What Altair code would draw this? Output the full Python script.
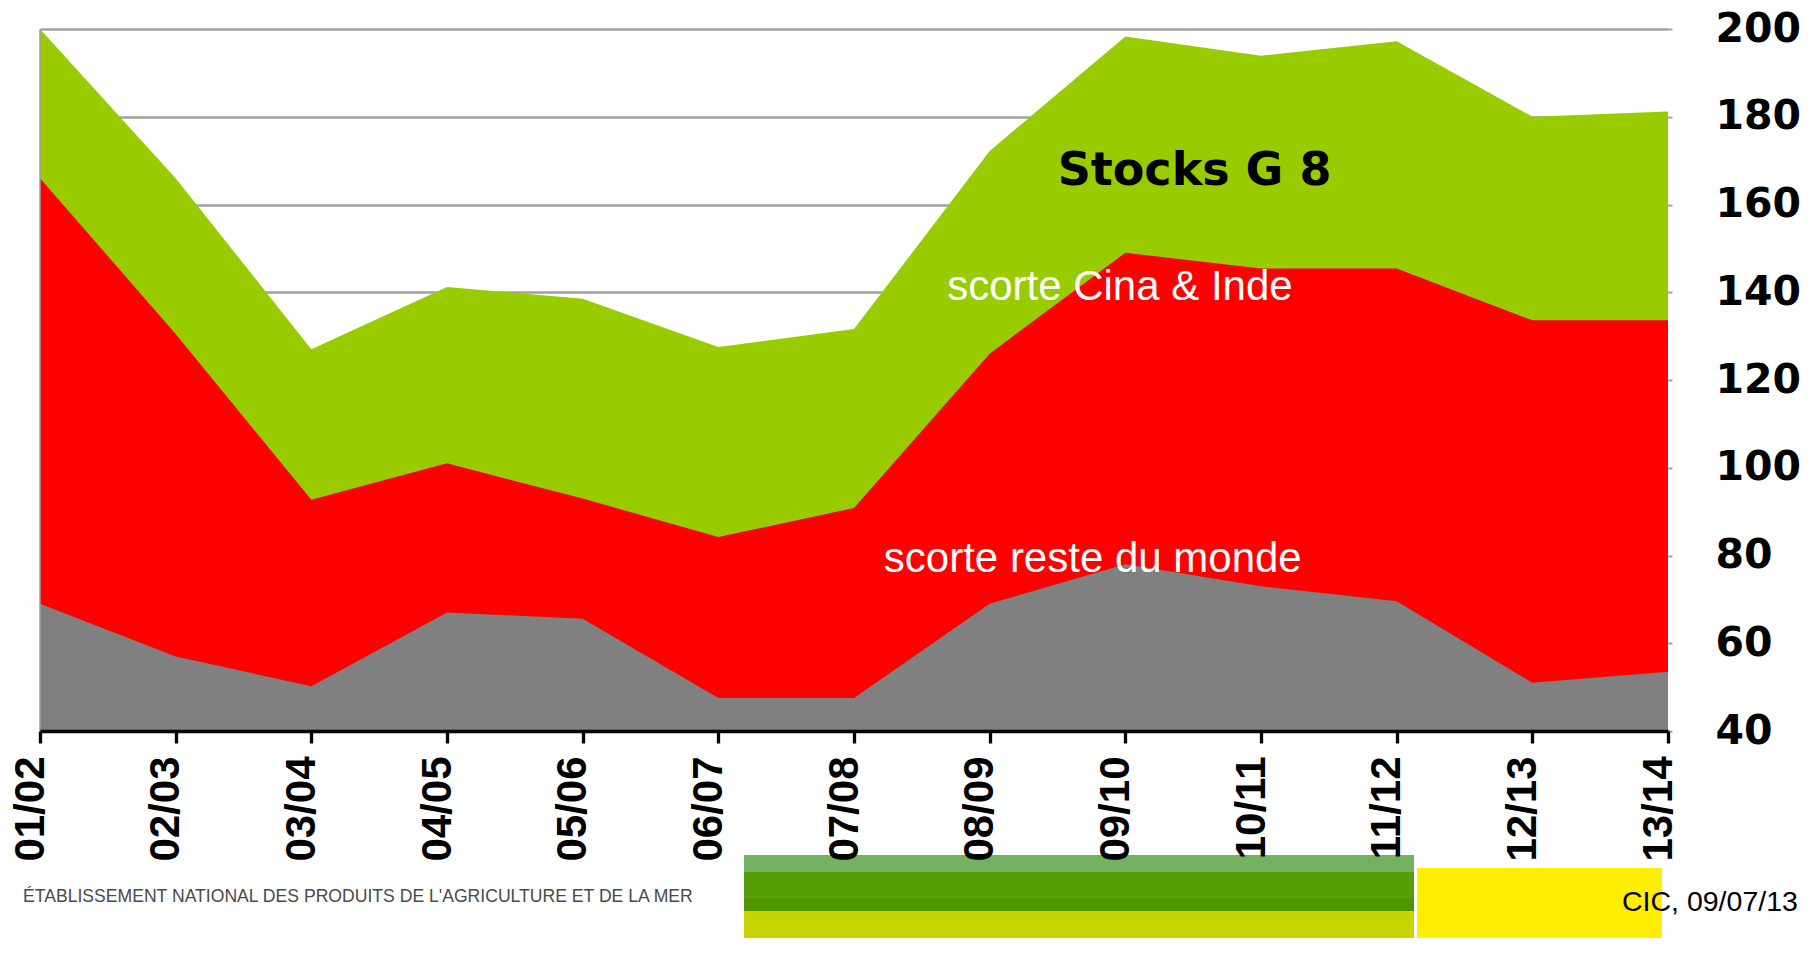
import altair as alt
import pandas as pd

# ---- data -------------------------------------------------------------
seasons = ["01/02", "02/03", "03/04", "04/05", "05/06", "06/07", "07/08",
           "08/09", "09/10", "10/11", "11/12", "12/13", "13/14"]
# upper edge of each coloured band (stacked totals)
total_g8 = [200, 166, 127, 141.2, 138.5, 127.5, 131.6, 172.2, 198.3, 193.9, 197.2, 180, 181.2]
edge_red = [166, 130.5, 92.7, 101, 93, 84.2, 90.8, 126, 149, 145.4, 145.4, 133.6, 133.6]
edge_grey = [69, 57, 50.2, 67, 65.6, 47.5, 47.5, 69, 78, 73, 69.6, 51, 53.5]

y_ticks = [40, 60, 80, 100, 120, 140, 160, 180, 200]

ann_bold_text = ["Stocks G 8"]
ann_bold_x = [8.51]
ann_bold_y = [167.7]

ann_white_text = ["scorte Cina & Inde", "scorte reste du monde"]
ann_white_x = [7.96, 7.76]
ann_white_y = [141.2, 79.3]

footer_left = "ÉTABLISSEMENT NATIONAL DES PRODUITS DE L'AGRICULTURE ET DE LA MER"
footer_right = "CIC, 09/07/13"

# ---- chart ------------------------------------------------------------
W, H = 1628, 702
df = pd.DataFrame({"i": list(range(len(seasons))), "season": seasons,
                   "top": total_g8, "mid": edge_red, "low": edge_grey})

label_expr = "[" + ",".join("'" + s + "'" for s in seasons) + "][datum.value]"

xscale = alt.Scale(domain=[0, len(seasons) - 1], nice=False, zero=False)
yscale = alt.Scale(domain=[40, 200], nice=False, zero=False)

x_axis = alt.Axis(values=list(range(len(seasons))), labelExpr=label_expr,
                  labelAngle=270, labelAlign="right", labelBaseline="alphabetic",
                  labelFont="Liberation Sans", labelFontWeight="bold",
                  labelFontSize=42, labelColor="black", labelPadding=13,
                  labelOffset=3, tickSize=12, tickWidth=3.3, tickColor="black",
                  domainColor="black", domainWidth=3.3, grid=False, title=None,
                  labelOverlap=False, labelFlush=False, labelBound=False,
                  zindex=1)
y_axis = alt.Axis(orient="right", values=y_ticks, grid=True, gridColor="#a0a0a0",
                  gridWidth=2.7, domain=False, tickColor="#a0a0a0", tickSize=4,
                  tickWidth=2, labelFont="DejaVu Sans", labelFontWeight="bold",
                  labelFontSize=41, labelColor="black", labelAlign="left",
                  labelBaseline="middle", labelPadding=43, title=None,
                  labelFlush=False, labelOverlap=False, labelBound=False)


def X(field):
    return alt.X(field, scale=xscale, axis=x_axis, title=None)


def Y(field):
    return alt.Y(field, scale=yscale, axis=y_axis, title=None)


base = alt.Chart(df)

green = base.mark_area(color="#99cc00", clip=True).encode(
    x=X("i:Q"), y=Y("top:Q"), y2=alt.datum(40))
red = base.mark_area(color="#ff0000", clip=True).encode(
    x=X("i:Q"), y=Y("mid:Q"), y2=alt.datum(40))
grey = base.mark_area(color="#808080", clip=True).encode(
    x=X("i:Q"), y=Y("low:Q"), y2=alt.datum(40))

one = pd.DataFrame({"k": [0]})
left_line = alt.Chart(one).mark_rule(color="#a0a0a0", strokeWidth=1.5).encode(
    x=alt.value(0), y=alt.value(0), y2=alt.value(H))

bold_df = pd.DataFrame({"x": ann_bold_x, "y": ann_bold_y, "t": ann_bold_text})
white_df = pd.DataFrame({"x": ann_white_x, "y": ann_white_y, "t": ann_white_text})

bold_txt = alt.Chart(bold_df).mark_text(
    font="DejaVu Sans", fontWeight="bold", fontSize=46, color="black",
    align="center", baseline="middle").encode(
    x=X("x:Q"), y=Y("y:Q"), text="t:N")
white_txt = alt.Chart(white_df).mark_text(
    font="Liberation Sans", fontSize=42, color="white",
    align="center", baseline="middle").encode(
    x=X("x:Q"), y=Y("y:Q"), text="t:N")

# ---- decorative footer (outside the plot area) --------------------------
def band(x1, x2, y1, y2, color):
    return alt.Chart(one).mark_rect(color=color).encode(
        x=alt.value(x1), x2=alt.value(x2), y=alt.value(y1), y2=alt.value(y2))

deco = [
    band(704, 1374, 826, 843, "#74b262"),
    band(704, 1374, 843, 870, "#589e08"),
    band(704, 1374, 870, 882, "#4f9600"),
    band(704, 1374, 882, 930, "#c8d400"),
    band(1377, 1622, 839, 930, "#ffee00"),
]
foot_l = alt.Chart(one).mark_text(
    text=footer_left, font="Liberation Sans", fontSize=17.6, color="#4a4a4a",
    align="left", baseline="middle").encode(x=alt.value(-17), y=alt.value(868))
foot_r = alt.Chart(one).mark_text(
    text=footer_right, font="Liberation Sans", fontSize=28.5, color="black",
    align="left", baseline="middle").encode(x=alt.value(1582), y=alt.value(873))

chart = alt.layer(green, red, grey, left_line, bold_txt, white_txt,
                  *deco, foot_l, foot_r).properties(
    width=W, height=H,
    autosize=alt.AutoSizeParams(type="none"),
    padding={"left": 32, "top": 21, "right": 144, "bottom": 207},
    background="white",
).configure_view(stroke=None)

chart.save("out.html", embed_options={"renderer": "svg", "actions": False})
